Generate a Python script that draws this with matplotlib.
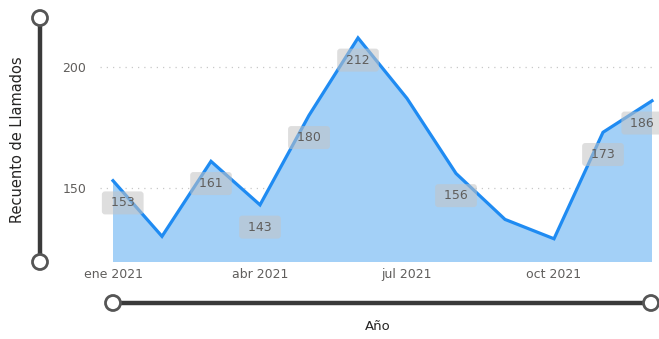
import matplotlib
matplotlib.use("Agg")
import matplotlib.pyplot as plt
from matplotlib.patches import Circle

W, H = 659, 339

months = list(range(12))
llamados = [153, 130, 161, 143, 180, 212, 187, 156, 137, 129, 173, 186]
labeled = [0, 2, 3, 4, 5, 7, 10, 11]
tick_pos = [0, 3, 6, 9]
tick_labels = ["ene 2021", "abr 2021", "jul 2021", "oct 2021"]

line_color = "#1F8BF2"
fill_color = "#A3D0F7"
text_gray = "#605E5C"
slider_gray = "#3A3A3A"


def px_rect(left, top, right, bottom):
    return [left / W, 1 - bottom / H, (right - left) / W, (bottom - top) / H]


fig = plt.figure(figsize=(W / 100, H / 100), dpi=100)

ax = fig.add_axes(px_rect(100, 20, 656, 262))
ax.fill_between(months, llamados, 0, color=fill_color, linewidth=0)
ax.plot(months, llamados, color=line_color, linewidth=2.3, solid_joinstyle="miter")
ax.set_xlim(-13 / 49, 11 + 4 / 49)
ax.set_ylim(119.4, 219.4)

ax.set_yticks([150, 200])
ax.set_yticklabels(["150", "200"])
ax.set_xticks(tick_pos)
ax.set_xticklabels(tick_labels)
ax.tick_params(axis="both", length=0, labelsize=9, colors=text_gray)
ax.tick_params(axis="x", pad=4)
ax.tick_params(axis="y", pad=10)
for s in ax.spines.values():
    s.set_visible(False)
ax.grid(axis="y", color="#C8C8C8", linestyle=(0, (1, 4)), linewidth=0.9)
ax.set_axisbelow(True)

# data labels sit below the points; edge ones nudged inward
nudge = {0: 7, 11: -7}
for i in labeled:
    ax.annotate(" " + str(llamados[i]) + " ", (months[i], llamados[i]),
                xytext=(nudge.get(i, 0), -16), textcoords="offset points",
                ha="center", va="center", fontsize=9, color=text_gray,
                bbox=dict(boxstyle="round,pad=0.4,rounding_size=0.25",
                          fc="#C4C4C4", ec="none", alpha=0.55))

# slider decorations and axis titles drawn in pixel space
ov = fig.add_axes([0, 0, 1, 1])
ov.set_xlim(0, W)
ov.set_ylim(H, 0)
ov.axis("off")
ov.patch.set_alpha(0)

ov.plot([40, 40], [18, 262], color=slider_gray, linewidth=3.2, solid_capstyle="butt")
ov.plot([113, 651], [303, 303], color=slider_gray, linewidth=3.2, solid_capstyle="butt")
for cx, cy in [(40, 18), (40, 262), (113, 303), (651, 303)]:
    ov.add_patch(Circle((cx, cy), 7.5, fc="white", ec="#555555", lw=2, zorder=5))

ov.text(18, 140, "Recuento de Llamados", rotation=90, ha="center", va="center",
        fontsize=10.5, color="#252423")
ov.text(378, 327, "Año", ha="center", va="center", fontsize=9.5, color="#252423")

fig.savefig("out.png", dpi=100)
